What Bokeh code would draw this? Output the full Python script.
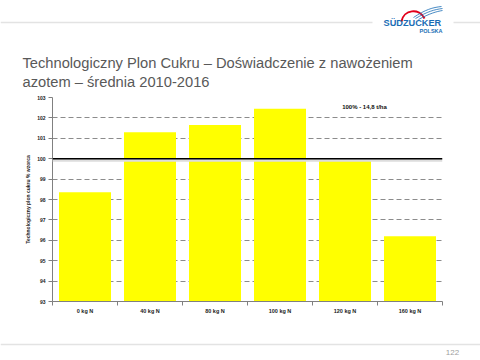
from bokeh.plotting import figure
from bokeh.models import Range1d, FixedTicker, Span
from bokeh.core.properties import value
from bokeh.embed import file_html
from bokeh.resources import INLINE

# ---- data ----
categories = ["0 kg N", "40 kg N", "80 kg N", "100 kg N", "120 kg N", "160 kg N"]
values = [98.35, 101.3, 101.65, 102.45, 100.0, 96.2]
y_ticks = [93, 94, 95, 96, 97, 98, 99, 100, 101, 102, 103]
title_lines = ["Technologiczny Plon Cukru – Doświadczenie z nawożeniem",
               "azotem – średnia 2010-2016"]
y_label = "Technologiczny plon cukru % wzorca"
note = "100% - 14,8 t/ha"
page_no = "122"

W = 480

# ---- header (page coordinates) ----
h = figure(width=W, height=90, x_range=Range1d(0, 480), y_range=Range1d(90, 0),
           x_axis_type=None, y_axis_type=None, toolbar_location=None,
           output_backend="svg", min_border=0, min_border_left=0, min_border_right=0,
           min_border_top=0, min_border_bottom=0, outline_line_color=None)
h.grid.visible = False
h.segment(x0=[0, 453], y0=[22, 22], x1=[372, 480], y1=[22, 22],
          line_color="#e3e3e3", line_width=1.5)
h.bezier(x0=[401], y0=[21], x1=[424], y1=[18], cx0=[403], cy0=[9], cx1=[419], cy1=[7],
         line_color="#e2001a", line_width=2)
h.bezier(x0=[413, 415, 418], y0=[17, 18, 19], x1=[441, 442, 442], y1=[6, 8, 10],
         cx0=[425, 427, 429], cy0=[9, 11, 13], cx1=[432, 434, 436], cy1=[7, 9, 11],
         line_color="#1a6db5", line_width=0.8)
h.text(x=[383], y=[22], text=["SÜDZUCKER"], text_font=value("Liberation Sans"),
       text_font_style="bold", text_font_size="9.2px", text_color="#1a6db5",
       text_baseline="middle", text_align="left")
h.text(x=[442], y=[30], text=["POLSKA"], text_font=value("Liberation Sans"),
       text_font_style="bold", text_font_size="5.5px", text_color="#1a6db5",
       text_baseline="middle", text_align="right")
h.text(x=[22, 22], y=[62, 81], text=title_lines, text_font=value("Liberation Sans"),
       text_font_size="14.7px", text_color="#595959", text_baseline="alphabetic",
       text_align="left")

# ---- chart ----
xs = [i + 0.5 for i in range(len(categories))]
p = figure(width=W, height=248, x_range=Range1d(0, len(categories)),
           y_range=Range1d(y_ticks[0], y_ticks[-1]), toolbar_location=None,
           output_backend="svg", min_border_left=52, min_border_right=38,
           min_border_top=7, min_border_bottom=37, outline_line_color=None)
p.vbar(x=xs, top=values, bottom=y_ticks[0], width=0.8, fill_color="#ffff00",
       line_color=None)

p.yaxis.ticker = FixedTicker(ticks=y_ticks)
p.yaxis.minor_tick_line_color = None
p.yaxis.major_tick_out = 4
p.yaxis.major_tick_in = 0
p.yaxis.axis_line_color = "#808080"
p.yaxis.major_tick_line_color = "#808080"
p.yaxis.major_label_text_font = "Liberation Sans"
p.yaxis.major_label_text_font_style = "bold"
p.yaxis.major_label_text_font_size = "5px"
p.yaxis.major_label_text_color = "#222222"
p.yaxis.major_label_standoff = 3
p.yaxis.axis_label = y_label
p.yaxis.axis_label_text_font = "Liberation Sans"
p.yaxis.axis_label_text_font_style = "bold"
p.yaxis.axis_label_text_font_size = "5px"
p.yaxis.axis_label_text_color = "#222222"
p.yaxis.axis_label_standoff = 3

p.xaxis.ticker = FixedTicker(ticks=xs, minor_ticks=list(range(len(categories) + 1)))
p.xaxis.major_label_overrides = {x: c for x, c in zip(xs, categories)}
p.xaxis.major_tick_out = 0
p.xaxis.major_tick_in = 0
p.xaxis.minor_tick_out = 4
p.xaxis.minor_tick_in = 0
p.xaxis.minor_tick_line_color = "#808080"
p.xaxis.axis_line_color = "#808080"
p.xaxis.major_label_text_font = "Liberation Sans"
p.xaxis.major_label_text_font_style = "bold"
p.xaxis.major_label_text_font_size = "5.5px"
p.xaxis.major_label_text_color = "#222222"
p.xaxis.major_label_standoff = 2

p.xgrid.visible = False
p.ygrid.ticker = FixedTicker(ticks=y_ticks[1:])
p.ygrid.grid_line_color = "#8c8c8c"
p.ygrid.grid_line_dash = "5 3"
p.ygrid.grid_line_width = 1

p.add_layout(Span(location=99.93, dimension="width", line_color="#dddddd", line_width=3))
p.add_layout(Span(location=100, dimension="width", line_color="#000000", line_width=1.5))

p.text(x=[4.8], y=[102.53], text=[note], text_font=value("Liberation Sans"),
       text_font_style="bold", text_font_size="6px", text_color="#111111",
       text_align="center", text_baseline="middle")

# ---- footer ----
f = figure(width=W, height=22, x_range=Range1d(0, 480), y_range=Range1d(360, 338),
           x_axis_type=None, y_axis_type=None, toolbar_location=None,
           output_backend="svg", min_border=0, min_border_left=0, min_border_right=0,
           min_border_top=0, min_border_bottom=0, outline_line_color=None)
f.grid.visible = False
f.segment(x0=[0], y0=[344], x1=[480], y1=[344], line_color="#e3e3e3", line_width=1.5)
f.text(x=[452], y=[352], text=[page_no], text_font=value("Liberation Sans"),
       text_font_size="8px", text_color="#a0a0a0", text_align="center",
       text_baseline="middle")

html = file_html([h, p, f], INLINE)
html = html.replace("<body>", "<body style=\"margin:0;line-height:0;overflow:hidden\">")
open("out.html", "w").write(html)
